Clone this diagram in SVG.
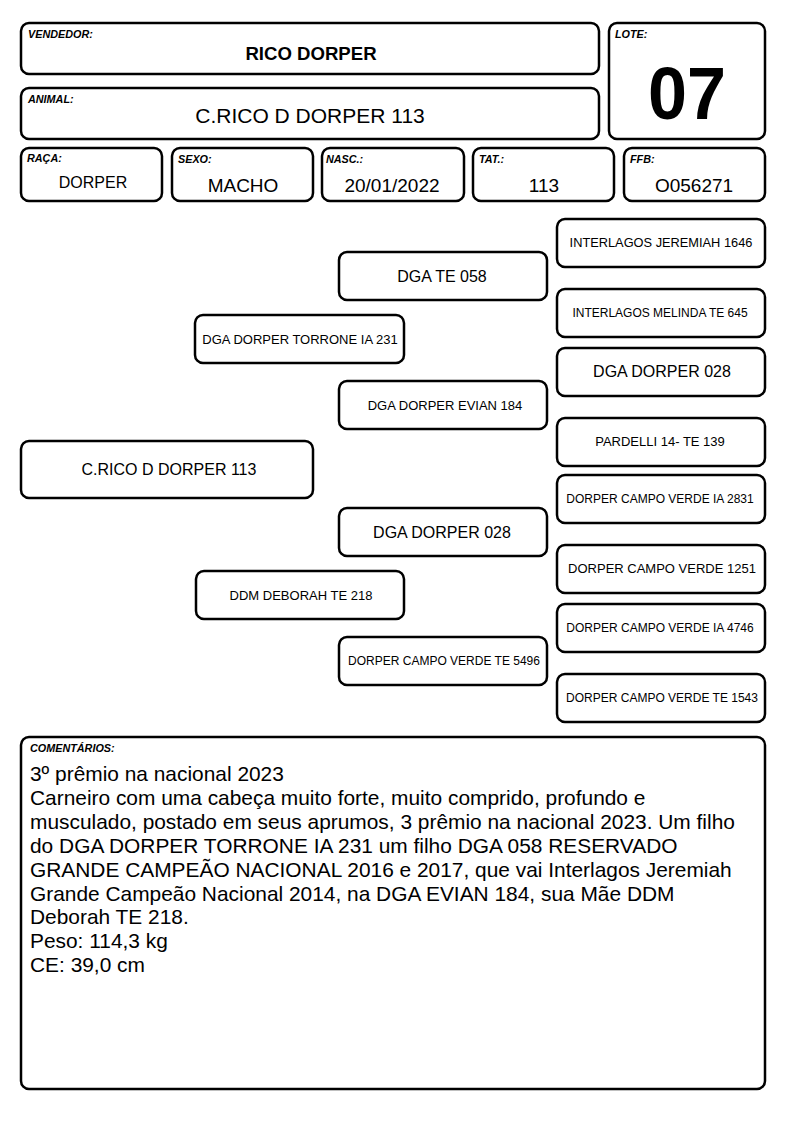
<svg xmlns="http://www.w3.org/2000/svg" width="794" height="1123" viewBox="0 0 794 1123">
<style>
.b{fill:#fff;stroke:#000;stroke-width:2.5}
.lb{font-family:"Liberation Sans",Arial,sans-serif;font-size:10.8px;font-weight:bold;font-style:italic;fill:#000}
.t{font-family:"Liberation Sans",Arial,sans-serif;fill:#000;text-anchor:middle}
.c{font-family:"Liberation Sans",Arial,sans-serif;font-size:20.9px;fill:#000}
</style>
<rect width="794" height="1123" fill="#fff"/>
<g id="vendedor"><rect class="b" x="21" y="23" width="578" height="51" rx="8"/><text class="lb" x="28" y="38">VENDEDOR:</text><text class="t" x="311" y="60" font-size="18.6" font-weight="bold">RICO DORPER</text></g>
<g id="animal"><rect class="b" x="21" y="88" width="578" height="51" rx="8"/><text class="lb" x="28" y="103">ANIMAL:</text><text class="t" x="310" y="123" font-size="21">C.RICO D DORPER 113</text></g>
<g id="lote"><rect class="b" x="609" y="23" width="156" height="116" rx="8"/><text class="lb" x="615" y="38">LOTE:</text><text class="t" x="687" y="119" font-size="75" font-weight="bold" textLength="78" lengthAdjust="spacingAndGlyphs">07</text></g>
<g id="raca"><rect class="b" x="21" y="148" width="141" height="53" rx="8"/><text class="lb" x="27" y="162">RAÇA:</text><text class="t" x="93" y="188" font-size="16">DORPER</text></g>
<g id="sexo"><rect class="b" x="172" y="148" width="141" height="53" rx="8"/><text class="lb" x="178" y="163">SEXO:</text><text class="t" x="243" y="192" font-size="19">MACHO</text></g>
<g id="nasc"><rect class="b" x="322" y="148" width="142" height="53" rx="8"/><text class="lb" x="326" y="163">NASC.:</text><text class="t" x="392" y="192" font-size="19">20/01/2022</text></g>
<g id="tat"><rect class="b" x="473" y="148" width="141" height="53" rx="8"/><text class="lb" x="479" y="163">TAT.:</text><text class="t" x="544" y="192" font-size="19">113</text></g>
<g id="ffb"><rect class="b" x="624" y="148" width="141" height="53" rx="8"/><text class="lb" x="630" y="163">FFB:</text><text class="t" x="694" y="192" font-size="19">O056271</text></g>

<g id="p0"><rect class="b" x="21" y="441" width="292" height="57" rx="8"/><text class="t" x="169" y="475" font-size="16">C.RICO D DORPER 113</text></g>
<g id="p1"><rect class="b" x="195" y="315" width="209" height="48" rx="8"/><text class="t" x="300" y="344" font-size="13">DGA DORPER TORRONE IA 231</text></g>
<g id="p2"><rect class="b" x="196" y="571" width="208" height="48" rx="8"/><text class="t" x="301" y="600" font-size="13">DDM DEBORAH TE 218</text></g>
<g id="p3"><rect class="b" x="339" y="252" width="208" height="48" rx="8"/><text class="t" x="442" y="282" font-size="16">DGA TE 058</text></g>
<g id="p4"><rect class="b" x="339" y="381" width="208" height="48" rx="8"/><text class="t" x="445" y="410" font-size="13">DGA DORPER EVIAN 184</text></g>
<g id="p5"><rect class="b" x="339" y="508" width="208" height="48" rx="8"/><text class="t" x="442" y="538" font-size="16">DGA DORPER 028</text></g>
<g id="p6"><rect class="b" x="339" y="637" width="208" height="48" rx="8"/><text class="t" x="444" y="665" font-size="12">DORPER CAMPO VERDE TE 5496</text></g>
<g id="p7"><rect class="b" x="557" y="219" width="208" height="48" rx="8"/><text class="t" x="661" y="247" font-size="12.8">INTERLAGOS JEREMIAH 1646</text></g>
<g id="p8"><rect class="b" x="557" y="289" width="208" height="48" rx="8"/><text class="t" x="660" y="317" font-size="12">INTERLAGOS MELINDA TE 645</text></g>
<g id="p9"><rect class="b" x="557" y="348" width="208" height="48" rx="8"/><text class="t" x="662" y="377" font-size="16">DGA DORPER 028</text></g>
<g id="p10"><rect class="b" x="557" y="418" width="208" height="48" rx="8"/><text class="t" x="660" y="446" font-size="13">PARDELLI 14- TE 139</text></g>
<g id="p11"><rect class="b" x="557" y="475" width="208" height="48" rx="8"/><text class="t" x="660" y="503" font-size="12">DORPER CAMPO VERDE IA 2831</text></g>
<g id="p12"><rect class="b" x="557" y="545" width="208" height="48" rx="8"/><text class="t" x="662" y="573" font-size="13">DORPER CAMPO VERDE 1251</text></g>
<g id="p13"><rect class="b" x="557" y="604" width="208" height="48" rx="8"/><text class="t" x="660" y="632" font-size="12">DORPER CAMPO VERDE IA 4746</text></g>
<g id="p14"><rect class="b" x="557" y="674" width="208" height="48" rx="8"/><text class="t" x="662" y="702" font-size="12">DORPER CAMPO VERDE TE 1543</text></g>

<g id="connectors"></g>

<g id="comentarios"><rect class="b" x="21" y="737" width="744" height="352" rx="8"/><text class="lb" x="30" y="752">COMENTÁRIOS:</text>
<text class="c" x="30" y="781">3º prêmio na nacional 2023</text>
<text class="c" x="30" y="805">Carneiro com uma cabeça muito forte, muito comprido, profundo e</text>
<text class="c" x="30" y="829">musculado, postado em seus aprumos, 3 prêmio na nacional 2023. Um filho</text>
<text class="c" x="30" y="853">do DGA DORPER TORRONE IA 231 um filho DGA 058 RESERVADO</text>
<text class="c" x="30" y="877">GRANDE CAMPEÃO NACIONAL 2016 e 2017, que vai Interlagos Jeremiah</text>
<text class="c" x="30" y="901">Grande Campeão Nacional 2014, na DGA EVIAN 184, sua Mãe DDM</text>
<text class="c" x="30" y="924">Deborah TE 218.</text>
<text class="c" x="30" y="948">Peso: 114,3 kg</text>
<text class="c" x="30" y="972">CE: 39,0 cm</text>
</g>
</svg>
